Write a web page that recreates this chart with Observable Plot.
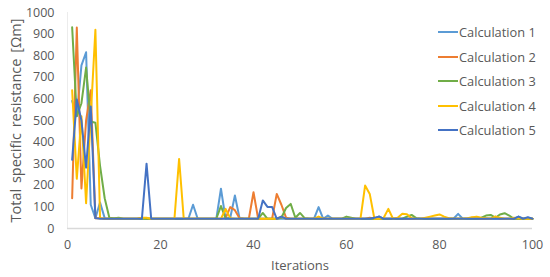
<!DOCTYPE html>
<html>
<head>
<meta charset="utf-8">
<script src="https://cdn.jsdelivr.net/npm/d3@7"></script>
<script src="https://cdn.jsdelivr.net/npm/@observablehq/plot@0.6"></script>
<style>
  html, body { margin: 0; padding: 0; background: #fff; }
  #wrap { position: relative; width: 550px; height: 277px; font-family: "Open Sans", sans-serif; }
  #legend { position: absolute; left: 438px; top: 20px; font-size: 12.8px; color: #595959; }
  #legend .row { display: flex; align-items: center; height: 24.5px; white-space: nowrap; }
  #legend .sw { width: 20px; height: 2px; margin-right: 1px; }
</style>
</head>
<body>
<div id="wrap"><div id="legend"></div></div>
<script>
const seriesNames = ["Calculation 1", "Calculation 2", "Calculation 3", "Calculation 4", "Calculation 5"];
const seriesColors = ["#5B9BD5", "#ED7D31", "#70AD47", "#FFC000", "#4472C4"];
const xTicks = [0, 20, 40, 60, 80, 100];
const yTicks = [0, 100, 200, 300, 400, 500, 600, 700, 800, 900, 1000];

const calc1 = [
590, 520, 755, 816, 110, 48, 120, 48, 45, 45,
45, 45, 45, 45, 45, 45, 45, 45, 45, 45,
45, 45, 45, 45, 45, 45, 110, 45, 45, 45,
45, 45, 184, 45, 50, 153, 48, 45, 45, 45,
45, 45, 45, 45, 45, 45, 45, 45, 45, 45,
45, 45, 45, 99, 45, 60, 45, 45, 45, 45,
45, 45, 45, 45, 45, 45, 56, 45, 45, 45,
45, 45, 45, 45, 45, 45, 45, 45, 45, 45,
45, 45, 45, 68, 45, 45, 45, 45, 45, 45,
45, 45, 45, 45, 45, 45, 55, 45, 50, 45];

const calc2 = [
140, 930, 185, 500, 640, 48, 48, 45, 45, 45,
45, 45, 45, 45, 45, 50, 45, 45, 45, 45,
45, 45, 45, 45, 45, 45, 45, 45, 45, 45,
45, 45, 45, 48, 99, 85, 48, 45, 45, 168,
45, 45, 45, 45, 160, 110, 50, 45, 45, 45,
45, 45, 45, 45, 45, 45, 45, 45, 45, 45,
45, 45, 45, 45, 50, 45, 45, 45, 45, 45,
45, 45, 45, 45, 45, 45, 45, 45, 45, 45,
45, 45, 45, 45, 45, 45, 50, 45, 45, 45,
45, 55, 45, 45, 45, 45, 45, 45, 45, 45];

const calc3 = [
932, 520, 580, 745, 495, 490, 290, 140, 50, 48,
50, 45, 45, 45, 45, 45, 45, 45, 45, 45,
45, 45, 45, 45, 45, 45, 45, 45, 45, 45,
45, 45, 104, 48, 45, 45, 45, 45, 45, 45,
45, 72, 45, 45, 45, 50, 95, 114, 50, 72,
48, 45, 45, 45, 45, 45, 45, 45, 45, 55,
50, 45, 45, 45, 45, 45, 45, 45, 45, 45,
45, 45, 55, 63, 48, 45, 45, 45, 45, 45,
45, 45, 45, 45, 45, 45, 45, 45, 50, 60,
63, 50, 65, 71, 60, 45, 45, 45, 45, 45];

const calc4 = [
640, 230, 520, 117, 520, 920, 48, 45, 45, 45,
45, 45, 45, 45, 45, 50, 50, 45, 45, 45,
45, 45, 45, 322, 45, 45, 45, 45, 45, 45,
45, 45, 45, 91, 48, 45, 45, 45, 45, 45,
45, 45, 45, 45, 45, 55, 45, 45, 45, 45,
45, 45, 45, 55, 45, 45, 45, 45, 45, 45,
45, 45, 45, 199, 160, 45, 45, 50, 91, 45,
50, 68, 66, 48, 45, 45, 50, 55, 60, 65,
55, 48, 45, 45, 45, 48, 52, 55, 50, 48,
45, 55, 50, 45, 45, 50, 48, 45, 45, 45];

const calc5 = [
318, 597, 500, 282, 565, 48, 45, 45, 45, 45,
45, 45, 45, 45, 45, 45, 300, 45, 45, 45,
45, 45, 45, 45, 45, 45, 45, 45, 45, 45,
45, 45, 45, 45, 45, 45, 45, 45, 45, 45,
45, 130, 100, 100, 45, 55, 45, 45, 45, 45,
45, 45, 45, 45, 45, 45, 45, 45, 45, 45,
45, 45, 45, 45, 45, 50, 55, 45, 45, 45,
45, 45, 45, 45, 45, 45, 45, 45, 45, 45,
45, 45, 45, 45, 45, 45, 45, 45, 45, 45,
45, 45, 45, 45, 45, 45, 55, 45, 52, 45];

const allSeries = [calc1, calc2, calc3, calc4, calc5];
const rows = [];
allSeries.forEach((vals, s) => {
  vals.forEach((v, i) => rows.push({ iter: i + 1, value: v, series: seriesNames[s] }));
});

const chart = Plot.plot({
  width: 550,
  height: 277,
  marginLeft: 67,
  marginRight: 18,
  marginTop: 12,
  marginBottom: 49,
  style: { fontFamily: "Open Sans, sans-serif", fontSize: "12.5px", color: "#595959", background: "#fff" },
  x: { domain: [0, 100] },
  y: { domain: [0, 1000] },
  color: { domain: seriesNames, range: seriesColors },
  marks: [
    Plot.ruleX([0], { stroke: "#ececec", strokeWidth: 1 }),
    Plot.ruleY([0], { stroke: "#d9d9d9", strokeWidth: 1.5 }),
    Plot.axisX({ ticks: xTicks, tickFormat: d => String(d), tickSize: 0, tickPadding: 12, label: "Iterations", labelAnchor: "center", labelArrow: "none", labelOffset: 41, fontSize: 12.5 }),
    Plot.axisY({ ticks: yTicks, tickFormat: d => String(d), tickSize: 0, tickPadding: 13, label: "Total specific resistance [Ωm]", labelAnchor: "center", labelArrow: "none", labelOffset: 57, fontSize: 12.5 }),
    Plot.line(rows, { x: "iter", y: "value", z: "series", stroke: "series", strokeWidth: 2, strokeLinejoin: "round" })
  ]
});

const wrap = document.getElementById("wrap");
wrap.insertBefore(chart, wrap.firstChild);
chart.querySelectorAll("g[aria-label='x-axis label'] text").forEach(t => t.setAttribute("font-size", "13"));
chart.querySelectorAll("g[aria-label='y-axis label'] text").forEach(t => { t.setAttribute("font-size", "14.5"); t.style.wordSpacing = "2px"; });

const legend = document.getElementById("legend");
seriesNames.forEach((name, i) => {
  const row = document.createElement("div");
  row.className = "row";
  const sw = document.createElement("span");
  sw.className = "sw";
  sw.style.background = seriesColors[i];
  const label = document.createElement("span");
  label.textContent = name;
  row.appendChild(sw);
  row.appendChild(label);
  legend.appendChild(row);
});
</script>
</body>
</html>
